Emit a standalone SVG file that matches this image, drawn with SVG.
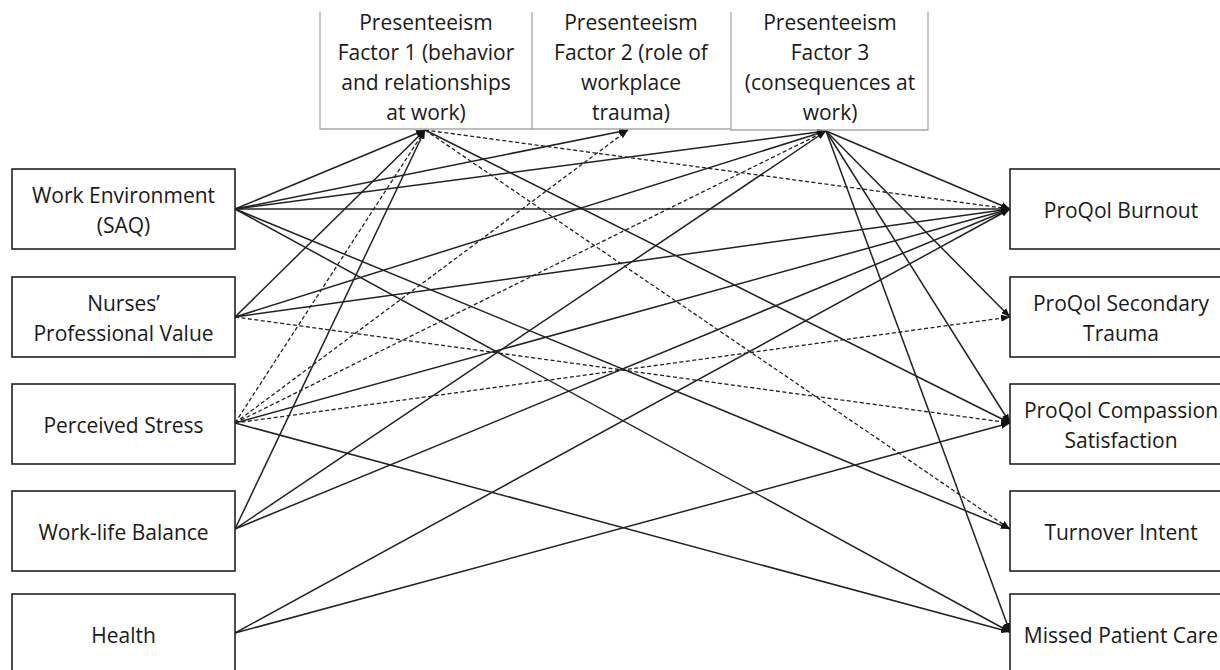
<svg xmlns="http://www.w3.org/2000/svg" width="1220" height="670" viewBox="0 0 1220 670">
<style>
.bx{fill:#fff;stroke:#222;stroke-width:1.6}
.fb{fill:none;stroke:#a8a8a8;stroke-width:1.3}
.t{font-family:"Open Sans","Noto Sans","DejaVu Sans",sans-serif;font-size:21px;fill:#1a1a1a;text-anchor:middle}
.c{fill:none;stroke:#222;stroke-width:1.5;marker-end:url(#ah)}
.d{stroke-dasharray:4 2.5;stroke-width:1.3}
</style>
<defs>
<marker id="ah" viewBox="0 0 9 7" refX="9" refY="3.5" markerWidth="9" markerHeight="7" markerUnits="userSpaceOnUse" orient="auto">
<path d="M0,0 L9,3.5 L0,7 z" fill="#111"/>
</marker>
</defs>
<rect width="1220" height="670" fill="#fff"/>

<g id="connectors">
<!-- Work Environment -->
<path class="c" d="M235,209 L425,130"/>
<path class="c" d="M235,209 L628,130"/>
<path class="c" d="M235,209 L826,131"/>
<path class="c" d="M235,209 L1010,209"/>
<path class="c" d="M235,209 L1010,529"/>
<path class="c" d="M235,209 L1010,632"/>
<!-- Nurses -->
<path class="c" d="M235,317 L425,130"/>
<path class="c" d="M235,317 L826,131"/>
<path class="c" d="M235,317 L1010,209"/>
<path class="c d" d="M235,317 L1010,423"/>
<!-- Perceived Stress -->
<path class="c d" d="M235,423 L425,130"/>
<path class="c d" d="M235,423 L628,130"/>
<path class="c d" d="M235,423 L826,131"/>
<path class="c" d="M235,423 L1010,209"/>
<path class="c d" d="M235,423 L1010,317"/>
<path class="c" d="M235,423 L1010,632"/>
<!-- Work-life Balance -->
<path class="c" d="M235,529 L425,130"/>
<path class="c" d="M235,529 L826,131"/>
<path class="c" d="M235,529 L1010,209"/>
<!-- Health -->
<path class="c" d="M235,633 L1010,209"/>
<path class="c" d="M235,633 L1010,423"/>
<!-- Factor 1 -->
<path class="c d" d="M425,130 L1010,209"/>
<path class="c" d="M425,130 L1010,423"/>
<path class="c d" d="M425,130 L1010,529"/>
<!-- Factor 3 -->
<path class="c" d="M826,131 L1010,209"/>
<path class="c" d="M826,131 L1010,317"/>
<path class="c" d="M826,131 L1010,423"/>
<path class="c" d="M826,131 L1010,632"/>
</g>

<g id="f1">
<path class="fb" d="M320,12 V129 H532"/>
<text class="t" x="426" y="30">Presenteeism</text>
<text class="t" x="426" y="60">Factor 1 (behavior</text>
<text class="t" x="426" y="90">and relationships</text>
<text class="t" x="426" y="120">at work)</text>
</g>
<g id="f2">
<path class="fb" d="M532,12 V129 H731"/>
<text class="t" x="631" y="30">Presenteeism</text>
<text class="t" x="631" y="60">Factor 2 (role of</text>
<text class="t" x="631" y="90">workplace</text>
<text class="t" x="631" y="120">trauma)</text>
</g>
<g id="f3">
<path class="fb" d="M731,12 V130 H928 V12"/>
<text class="t" x="830" y="30">Presenteeism</text>
<text class="t" x="830" y="60">Factor 3</text>
<text class="t" x="830" y="90">(consequences at</text>
<text class="t" x="830" y="120">work)</text>
</g>

<g id="we"><rect class="bx" x="12" y="169" width="223" height="80"/>
<text class="t" x="123.5" y="203">Work Environment</text><text class="t" x="123.5" y="233">(SAQ)</text></g>
<g id="nu"><rect class="bx" x="12" y="277" width="223" height="80"/>
<text class="t" x="123.5" y="311">Nurses’</text><text class="t" x="123.5" y="341">Professional Value</text></g>
<g id="ps"><rect class="bx" x="12" y="384" width="223" height="80"/>
<text class="t" x="123.5" y="433">Perceived Stress</text></g>
<g id="wl"><rect class="bx" x="12" y="491" width="223" height="80"/>
<text class="t" x="123.5" y="540">Work-life Balance</text></g>
<g id="he"><rect class="bx" x="12" y="594" width="223" height="80"/>
<text class="t" x="123.5" y="643">Health</text></g>

<g id="bo"><rect class="bx" x="1010" y="169" width="230" height="80"/>
<text class="t" x="1121" y="218">ProQol Burnout</text></g>
<g id="st"><rect class="bx" x="1010" y="277" width="230" height="80"/>
<text class="t" x="1121" y="311">ProQol Secondary</text><text class="t" x="1121" y="341">Trauma</text></g>
<g id="cs"><rect class="bx" x="1010" y="384" width="230" height="80"/>
<text class="t" x="1121" y="418">ProQol Compassion</text><text class="t" x="1121" y="448">Satisfaction</text></g>
<g id="ti"><rect class="bx" x="1010" y="491" width="230" height="80"/>
<text class="t" x="1121" y="540">Turnover Intent</text></g>
<g id="mc"><rect class="bx" x="1010" y="594" width="230" height="80"/>
<text class="t" x="1121" y="643">Missed Patient Care</text></g>
</svg>
